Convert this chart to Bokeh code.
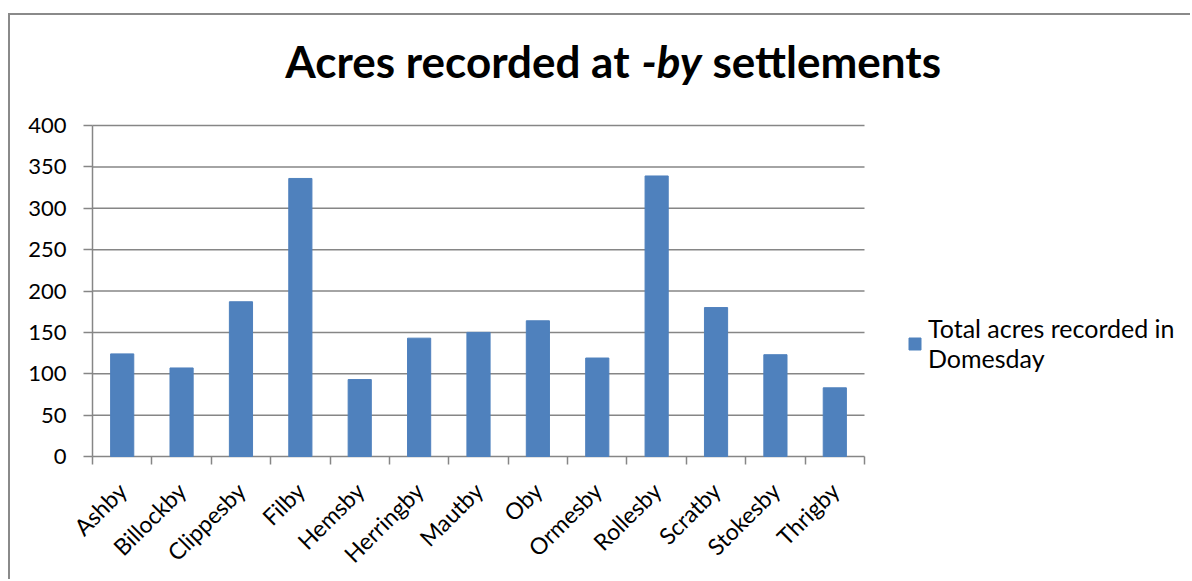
from math import pi
from bokeh.plotting import figure
from bokeh.models import (Range1d, LinearAxis, FixedTicker, ColumnDataSource, Legend, LegendItem, Label)
from bokeh.embed import file_html
from bokeh.resources import INLINE

settlements = ["Ashby", "Billockby", "Clippesby", "Filby", "Hemsby", "Herringby", "Mautby",
               "Oby", "Ormesby", "Rollesby", "Scratby", "Stokesby", "Thrigby"]
acres = [124, 107, 187, 336, 93, 143, 150, 164, 119, 339, 180, 123, 83]
y_ticks = [0, 50, 100, 150, 200, 250, 300, 350, 400]
title_parts = ["Acres recorded at", "-by", "settlements"]
series_name = "Total acres recorded in\nDomesday"

FONT = "Lato"
GRID = "#868686"
BAR = "#4f81bd"
BORDER = "#8a8a8a"

# page geometry (pixels)
OX, OY = 10, 15              # content origin inside the 2px border drawn at x=8, y=13
PLOT_L, PLOT_R = 92, 864     # category axis extent
PLOT_T, PLOT_B = 125, 456    # value axis extent (400 .. 0)
FRAME_L, FRAME_B = 90, 458   # frame slightly larger so edge lines are not clipped

n = len(settlements)
ymax = y_ticks[-1]
cat_w = (PLOT_R - PLOT_L) / n
px_per_unit = (PLOT_B - PLOT_T) / ymax
x_start = -(PLOT_L - FRAME_L) / cat_w
x_end = n + (1192 - PLOT_R) / cat_w
y_start = -(FRAME_B - PLOT_B) / px_per_unit
y_end = ymax + (PLOT_T - OY) / px_per_unit

centers = [i + 0.5 for i in range(n)]
source = ColumnDataSource(dict(x=centers, top=acres, name=settlements))

p = figure(width=1192 - OX, height=581 - OY, output_backend="svg", toolbar_location=None,
           x_range=Range1d(x_start, x_end), y_range=Range1d(y_start, y_end),
           x_axis_location=None, y_axis_location=None,
           min_border_left=FRAME_L - OX, min_border_right=0, min_border_top=0,
           min_border_bottom=581 - FRAME_B,
           styles={"border-top": f"2px solid {BORDER}", "border-left": f"2px solid {BORDER}",
                   "margin-left": "8px", "margin-top": "13px"})
p.outline_line_color = None
p.xgrid.grid_line_color = None
p.ygrid.grid_line_color = None

# horizontal gridlines (only across the category extent) and the value-axis line
p.segment(x0=[0] * len(y_ticks), x1=[n] * len(y_ticks), y0=y_ticks, y1=y_ticks,
          line_color=GRID, line_width=1.5)
p.segment(x0=[0], x1=[0], y0=[0], y1=[ymax], line_color=GRID, line_width=1.5)

bars = p.vbar(x="x", top="top", width=0.39, source=source,
              fill_color=BAR, line_color=BAR, line_width=1)

yaxis = LinearAxis(ticker=FixedTicker(ticks=y_ticks), axis_line_color=None,
                   major_tick_line_color=GRID, major_tick_line_width=1.5, major_tick_out=7, major_tick_in=2,
                   minor_tick_line_color=None, major_label_text_font=FONT,
                   major_label_text_font_size="22px", major_label_text_color="black",
                   major_label_standoff=17)
p.add_layout(yaxis, "left")

xaxis = LinearAxis(ticker=FixedTicker(ticks=centers, minor_ticks=list(range(n + 1))),
                   major_label_overrides={c: s for c, s in zip(centers, settlements)},
                   axis_line_color=None,
                   major_tick_line_color=None, major_tick_out=6, major_tick_in=0,
                   minor_tick_line_color=GRID, minor_tick_line_width=1.5,
                   minor_tick_out=6, minor_tick_in=2,
                   major_label_orientation=pi / 4,
                   major_label_text_font=FONT, major_label_text_font_size="23px",
                   major_label_text_color="black", major_label_standoff=22)
p.add_layout(xaxis, "below")

# title in three parts: bold, bold italic, bold (screen units relative to frame)
base = FRAME_B - 60
for txt, xpos, align, style in [(title_parts[0], 629, "right", "bold"),
                                (title_parts[1], 671, "center", "bold italic"),
                                (title_parts[2], 712, "left", "bold")]:
    p.add_layout(Label(x=xpos - FRAME_L, y=base, x_units="screen", y_units="screen", text=txt,
                       text_font=FONT, text_font_style=style, text_font_size="44px",
                       text_align=align, text_baseline="alphabetic", text_color="black"))

legend = Legend(items=[LegendItem(label=series_name, renderers=[bars])],
                location=(907 - FRAME_L, FRAME_B - 373), padding=0, margin=0, border_line_color=None,
                background_fill_alpha=0, glyph_width=15, glyph_height=15, label_standoff=6,
                label_text_font=FONT, label_text_font_size="25px", label_text_color="black")
p.add_layout(legend, "center")

open("out.html", "w").write(file_html(p, INLINE))
